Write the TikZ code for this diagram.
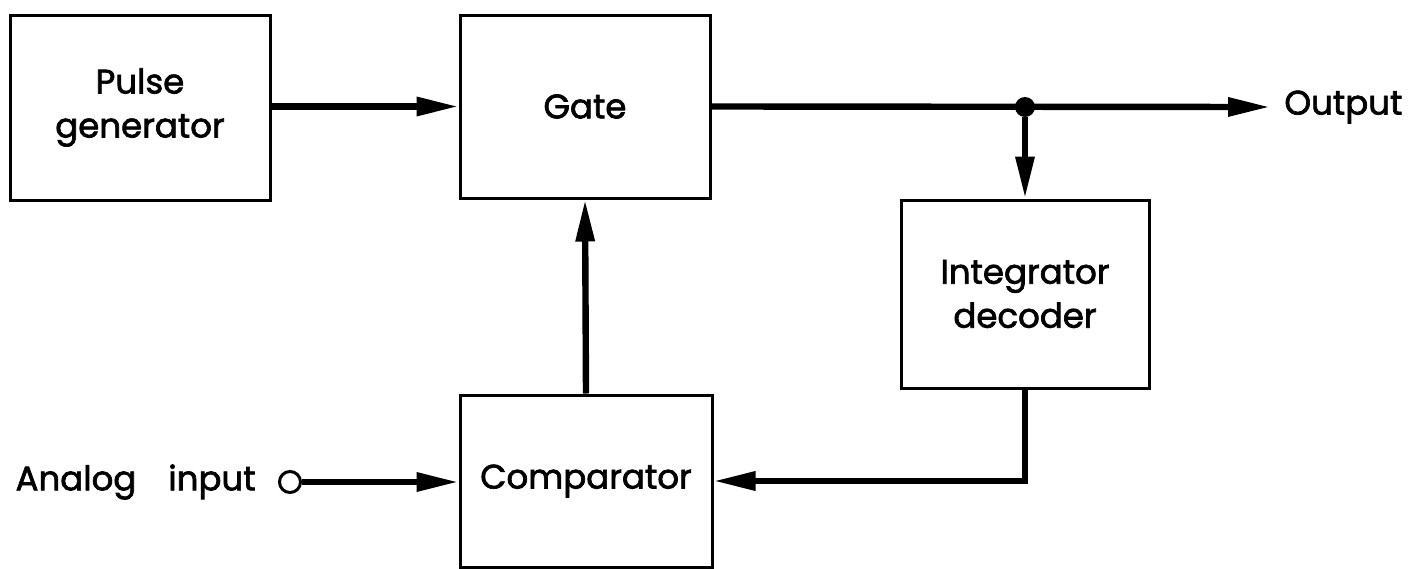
\documentclass[tikz,border=0pt]{standalone}
\usepackage{fontspec}
\setmainfont{Poppins}[FakeBold=2]
\usetikzlibrary{arrows.meta,calc}
\begin{document}
\begin{tikzpicture}[x=0.5pt,y=-0.5pt,
  blk/.style={draw, line width=1.5pt, inner sep=0pt, align=center, font=\fontsize{17}{22}\selectfont},
  conn/.style={line width=3.2pt, -{Triangle[length=21pt,width=9pt]}},
  lbl/.style={inner sep=0pt, font=\fontsize{17}{22}\selectfont},
  dotnode/.style={circle, fill, inner sep=0pt, minimum size=10pt},
  term/.style={circle, draw, line width=1.5pt, inner sep=0pt, minimum size=10.5pt}]
\useasboundingbox (0,0) rectangle (1419,568);
\node[blk, minimum width=130pt, minimum height=92.5pt] (pg) at (140,107.5) {Pulse\\generator};
\node[blk, minimum width=125pt, minimum height=91.5pt] (gate) at (585,106.5) {Gate};
\node[blk, minimum width=124pt, minimum height=94pt] (int) at (1025,294) {Integrator\\decoder};
\node[blk, minimum width=126pt, minimum height=86pt] (comp) at (586,481) {Comparator};
\node[dotnode] (j) at (1025,107) {};
\coordinate (out) at (1270,107);
\node[lbl, anchor=west] (outlbl) at (1284,107) {Output};
\node[term] (ain) at (290,482) {};
\node[lbl, anchor=east] (ainlbl) at (256,482) {Analog\hspace{16pt}input};
\draw[conn] (pg.east |- gate.west) -- (gate.west);
\draw[conn] (gate.east) -- (out);
\draw[conn] (j) -- (int.north);
\draw[conn] (int.south) |- (comp.east);
\draw[conn] (comp.north) -- (gate.south);
\draw[conn] (ain.east) -- (ain.east -| comp.west);
\end{tikzpicture}
\end{document}
